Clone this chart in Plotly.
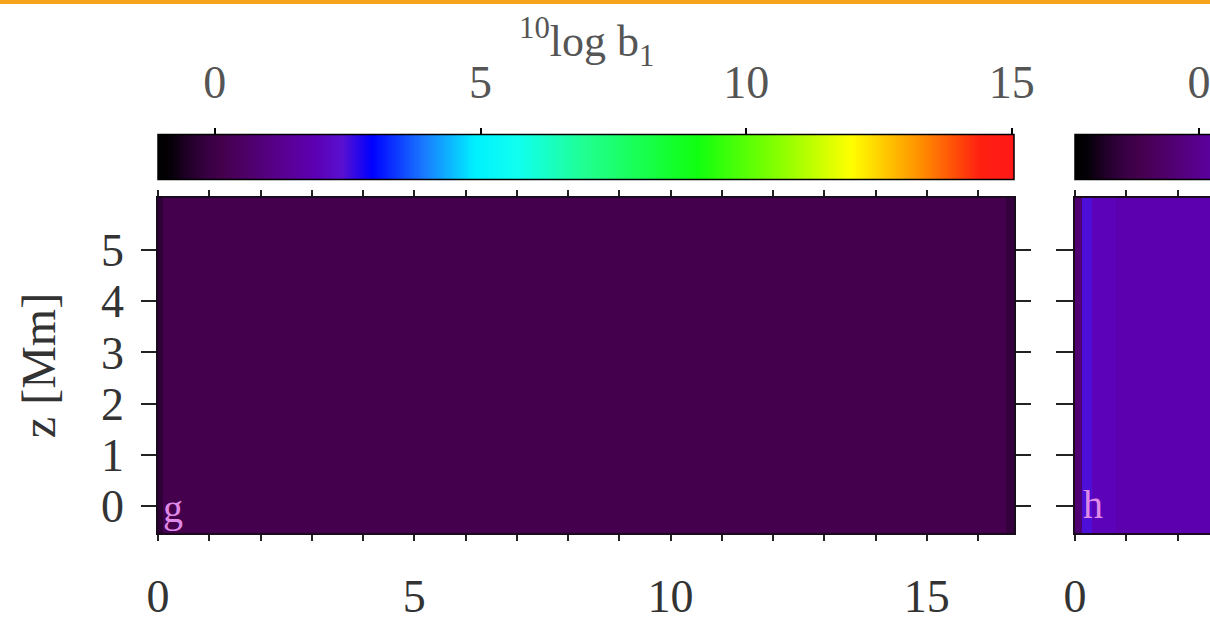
import plotly.graph_objects as go

W, H = 1210, 622

# ---------------- data ----------------
# panel g : 10log b1 over the (x, z) plane  (bin edges in Mm)
g_x_edges = [0.0, 0.10, 16.54, 16.70]
g_z_edges = [-0.53, 6.02]
g_values = [[-0.30, 0.14, -0.20]]

# panel h : truncated at the right border of the picture
h_x_edges = [0.0, 0.14, 0.33, 0.80, 2.70]
h_z_edges = [-0.53, 6.02]
h_values = [[-0.50, 1.30, 0.80, 0.60]]

# colour ranges
cb1_range = [-1.07, 15.04]
cb2_range = [-2.50, 14.76]
cb_ticks = [0, 5, 10, 15]

# axis ticks
x_tickvals = [0, 5, 10, 15]
x_ticktext = ["0", "5", "10", "15"]
y_tickvals = [0, 1, 2, 3, 4, 5]
y_ticktext = ["0", "1", "2", "3", "4", "5"]

# ---------------- style ----------------
SERIF = "Liberation Serif"
colorscale = [
    [0.000, "#000000"],
    [0.015, "#050008"],
    [0.035, "#200028"],
    [0.060, "#3a0045"],
    [0.075, "#44004c"],
    [0.110, "#50006e"],
    [0.150, "#5a0095"],
    [0.185, "#5c00b4"],
    [0.215, "#5a10d0"],
    [0.250, "#0000ff"],
    [0.310, "#1a78ff"],
    [0.370, "#00f0ff"],
    [0.420, "#10fff0"],
    [0.500, "#20ff90"],
    [0.630, "#10ff10"],
    [0.720, "#80ff00"],
    [0.810, "#ffff00"],
    [0.890, "#ff9000"],
    [0.960, "#ff2010"],
    [1.000, "#ff1818"],
]

def px_x(p):
    return p / W

def px_y(p):
    return 1 - p / H

tickfont = dict(family=SERIF, size=46, color="#333333")
cbfont = dict(family=SERIF, size=46, color="#555555")

cb2_visible = [cb2_range[0], cb2_range[0] + (cb2_range[1] - cb2_range[0]) * 135 / 856]

fig = go.Figure()
fig.add_trace(go.Heatmap(x=g_x_edges, y=g_z_edges, z=g_values,
                         coloraxis="coloraxis", xaxis="x", yaxis="y", hoverinfo="skip"))
fig.add_trace(go.Heatmap(x=h_x_edges, y=h_z_edges, z=h_values,
                         coloraxis="coloraxis2", xaxis="x2", yaxis="y2", hoverinfo="skip"))
# invisible carriers so that the colour-bar tick scales are drawn
fig.add_trace(go.Scatter(x=cb1_range, y=[0.5, 0.5], xaxis="x3", yaxis="y3", mode="lines",
                         line=dict(width=0, color="rgba(0,0,0,0)"), hoverinfo="skip", showlegend=False))
fig.add_trace(go.Scatter(x=cb2_visible, y=[0.5, 0.5], xaxis="x4", yaxis="y4", mode="lines",
                         line=dict(width=0, color="rgba(0,0,0,0)"), hoverinfo="skip", showlegend=False))

def cbar(x_left):
    return dict(orientation="h", x=x_left, xanchor="left", y=px_y(181), yanchor="bottom",
                len=856, lenmode="pixels", thickness=45, thicknessmode="pixels",
                xpad=0, ypad=0, outlinewidth=1.5, outlinecolor="black",
                showticklabels=False, ticks="")

line_col = "#1a0a1e"
minor_x = dict(dtick=1, ticks="outside", ticklen=6, tickwidth=1.5, tickcolor="#222222", showgrid=False)
common_y = dict(range=[-0.53, 6.02], tickvals=y_tickvals, ticks="outside", tickwidth=2,
                tickcolor="#222222", mirror="ticks", showline=True, linecolor=line_col,
                linewidth=1.5, showgrid=False, zeroline=False,
                domain=[px_y(533), px_y(198)])
common_x = dict(ticks="outside", ticklen=6, tickwidth=1.5, tickcolor="#222222", mirror="ticks",
                showline=True, linecolor=line_col, linewidth=1.5, showgrid=False,
                zeroline=False, tickfont=tickfont, ticklabelstandoff=16, minor=minor_x)
cb_axis = dict(side="top", tickvals=cb_ticks, ticks="outside", ticklen=6, tickwidth=2,
               tickcolor="black", showgrid=False, zeroline=False, showline=False,
               tickfont=cbfont, ticklabelstandoff=12, fixedrange=True,
               ticklabeloverflow="allow")

fig.update_layout(
    width=W, height=H,
    margin=dict(l=0, r=0, t=0, b=0, autoexpand=False),
    paper_bgcolor="white", plot_bgcolor="white",
    showlegend=False,
    coloraxis=dict(colorscale=colorscale, cmin=cb1_range[0], cmax=cb1_range[1], colorbar=cbar(px_x(158))),
    coloraxis2=dict(colorscale=colorscale, cmin=cb2_range[0], cmax=cb2_range[1], colorbar=cbar(px_x(1075))),
    xaxis=dict(domain=[px_x(158), px_x(1014)], range=[0, 16.70], anchor="y",
               tickvals=x_tickvals, ticktext=x_ticktext, **common_x),
    yaxis=dict(anchor="x", ticktext=y_ticktext, ticklen=15, tickfont=tickfont,
               ticklabelstandoff=8,
               title=dict(text="z [Mm]", font=dict(family=SERIF, size=48, color="#333333"),
                          standoff=30),
               **common_y),
    xaxis2=dict(domain=[px_x(1075), 1.0], range=[0, 135 / 51.26], anchor="y2",
                tickvals=x_tickvals, ticktext=x_ticktext, **common_x),
    yaxis2=dict(anchor="x2", ticklen=17, showticklabels=False, **common_y),
    # tick scales of the two colour bars
    xaxis3=dict(domain=[px_x(158), px_x(1014)], range=cb1_range, anchor="y3", **cb_axis),
    yaxis3=dict(domain=[px_y(181), px_y(135)], range=[0, 1], anchor="x3", visible=False, fixedrange=True),
    xaxis4=dict(domain=[px_x(1075), 1.0], range=cb2_visible, anchor="y4", **cb_axis),
    yaxis4=dict(domain=[px_y(181), px_y(135)], range=[0, 1], anchor="x4", visible=False, fixedrange=True),
    shapes=[dict(type="rect", xref="paper", yref="paper", x0=0, x1=1, y0=px_y(4), y1=1,
                 fillcolor="#f7a41d", line=dict(width=0), layer="above")],
    annotations=[
        dict(text="<sup>10</sup>log b<sub>1</sub>", xref="paper", yref="paper",
             x=px_x(586), y=px_y(42), xanchor="center", yanchor="middle", showarrow=False,
             font=dict(family=SERIF, size=44, color="#555555")),
        dict(text="g", xref="x", yref="y", x=0.05, y=-0.53, xanchor="left", yanchor="bottom",
             showarrow=False, font=dict(family=SERIF, size=40, color="#e08ae8")),
        dict(text="h", xref="x2", yref="y2", x=0.12, y=-0.45, xanchor="left", yanchor="bottom",
             showarrow=False, font=dict(family=SERIF, size=40, color="#e08ae8")),
    ],
)

fig.write_html("out.html")
